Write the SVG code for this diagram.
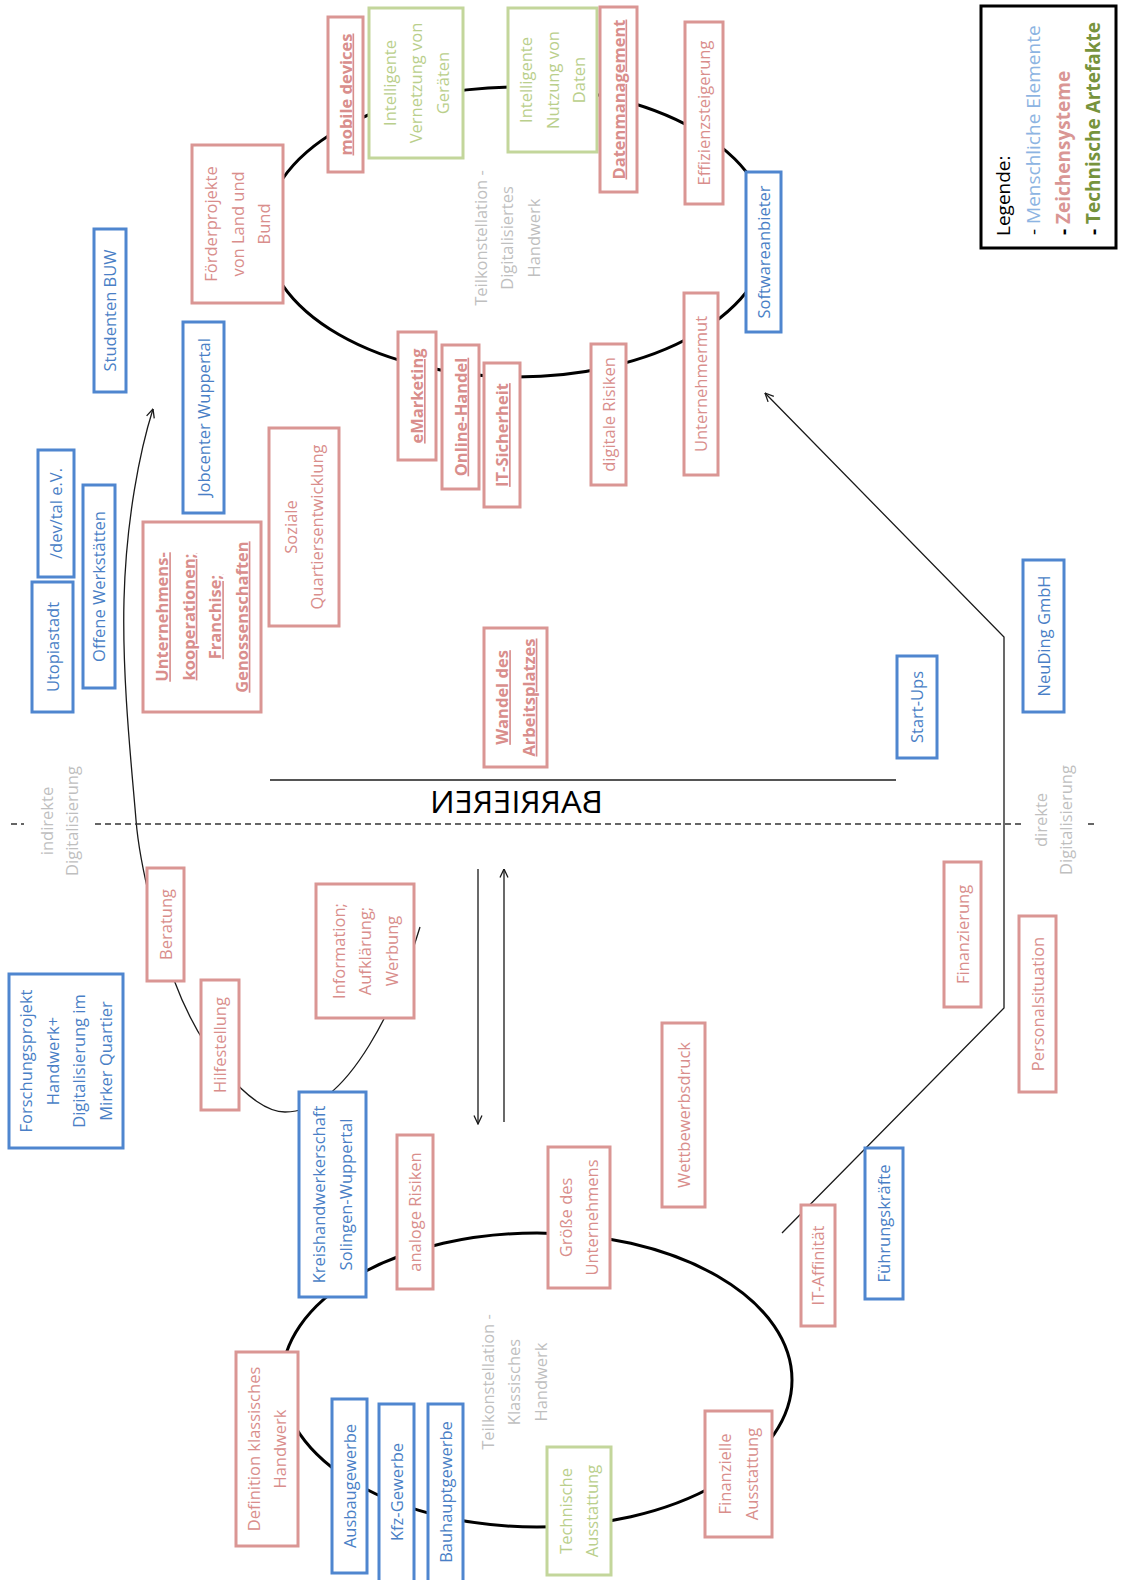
<svg xmlns="http://www.w3.org/2000/svg" width="1121" height="1580" viewBox="0 0 1121 1580">
<style>
text{font-family:"Open Sans","Noto Sans","DejaVu Sans",sans-serif;font-size:16.5px;text-anchor:middle}
.node rect{fill:#fff;stroke-width:3}
.b rect{stroke:#4F86CF}.b text{fill:#4A7FC6}
.p rect{stroke:#DA9694}.p text{fill:#D98E8C}
.g rect{stroke:#C3D69B}.g text{fill:#BACF8C}
.bu text{font-weight:bold;text-decoration:underline}
.lbl{fill:#BFBFBF}
.ell{fill:none;stroke:#000;stroke-width:3}
.con{fill:none;stroke:#1a1a1a;stroke-width:1.3}
.dash{stroke:#333;stroke-width:1.5;stroke-dasharray:6 4}
</style>
<defs>
<marker id="arr" viewBox="0 0 10 10" refX="9.5" refY="5" markerWidth="10" markerHeight="10" markerUnits="userSpaceOnUse" orient="auto">
<path d="M1 1 L9.5 5 L1 9" fill="none" stroke="#1a1a1a" stroke-width="1.3"/>
</marker>
</defs>
<rect width="1121" height="1580" fill="#fff"/>
<g id="connectors">
<ellipse class="ell" cx="517" cy="232" rx="252" ry="145"/>
<ellipse class="ell" cx="537" cy="1380" rx="255" ry="147"/>
<path class="con" d="M420 927 C400 995 350 1112 285 1112 C250 1112 200 1050 174 980 C160 942 140 870 136 820 C132 770 122 680 124 600 C126 520 140 450 153 409" marker-end="url(#arr)"/>
<polyline class="con" points="782,1233 1004,1008 1004,637 765,393" marker-end="url(#arr)"/>
<line class="con" x1="478" y1="869" x2="478" y2="1124" marker-end="url(#arr)"/>
<line class="con" x1="504" y1="1122" x2="504" y2="869" marker-end="url(#arr)"/>
<line x1="270" y1="780" x2="896" y2="780" stroke="#555" stroke-width="2"/>
<line class="dash" x1="11" y1="824" x2="24" y2="824"/>
<line class="dash" x1="95" y1="824" x2="1021" y2="824"/>
<line class="dash" x1="1088" y1="824" x2="1098" y2="824"/>
</g>
<g id="labels">
<text class="lbl" transform="translate(507,238) rotate(-90)"><tspan x="0" y="-20.5">Teilkonstellation -</tspan><tspan x="0" y="6">Digitalisiertes</tspan><tspan x="0" y="32.5">Handwerk</tspan></text>
<text class="lbl" transform="translate(514,1382) rotate(-90)"><tspan x="0" y="-20.5">Teilkonstellation -</tspan><tspan x="0" y="6">Klassisches</tspan><tspan x="0" y="32.5">Handwerk</tspan></text>
<text class="lbl" transform="translate(59,821) rotate(-90)"><tspan x="0" y="-6.5">indirekte</tspan><tspan x="0" y="18.5">Digitalisierung</tspan></text>
<text class="lbl" transform="translate(1053.5,820) rotate(-90)"><tspan x="0" y="-6.5">direkte</tspan><tspan x="0" y="18.5">Digitalisierung</tspan></text>
<text id="barrieren" transform="translate(516.5,813) scale(-1,1)" style="font-size:31px;fill:#000" textLength="173" lengthAdjust="spacingAndGlyphs">BARRIEREN</text>
</g>
<g id="legend">
<rect x="981" y="6" width="135" height="242" fill="#fff" stroke="#000" stroke-width="3"/>
<text transform="rotate(-90)" style="font-size:19px;text-anchor:start"><tspan x="-236" y="1010" fill="#000">Legende:</tspan><tspan x="-235" y="1040"><tspan fill="#000">- </tspan><tspan fill="#8DB4E2">Menschliche Elemente</tspan></tspan><tspan x="-235" y="1070" font-weight="bold"><tspan fill="#000">- </tspan><tspan fill="#D99694">Zeichensysteme</tspan></tspan><tspan x="-235" y="1100" font-weight="bold"><tspan fill="#000">- </tspan><tspan fill="#77933C">Technische Artefakte</tspan></tspan></text>
</g>
<g id="nodes">
<g id="studenten" class="node b"><rect x="94" y="229" width="32" height="163"/><text transform="translate(110,310.5) rotate(-90)"><tspan x="0" y="6">Studenten BUW</tspan></text></g>
<g id="jobcenter" class="node b"><rect x="183" y="322" width="41" height="191"/><text transform="translate(203.5,417.5) rotate(-90)"><tspan x="0" y="6">Jobcenter Wuppertal</tspan></text></g>
<g id="foerder" class="node p"><rect x="192" y="145" width="91" height="158"/><text transform="translate(237.5,224) rotate(-90)"><tspan x="0" y="-20.5">Förderprojekte</tspan><tspan x="0" y="6">von Land und</tspan><tspan x="0" y="32.5">Bund</tspan></text></g>
<g id="mobile" class="node p bu"><rect x="328" y="17" width="35" height="155"/><text transform="translate(345.5,94.5) rotate(-90)"><tspan x="0" y="6">mobile devices</tspan></text></g>
<g id="vernetzung" class="node g"><rect x="369" y="8" width="94" height="150"/><text transform="translate(416,83) rotate(-90)"><tspan x="0" y="-20.5">Intelligente</tspan><tspan x="0" y="6">Vernetzung von</tspan><tspan x="0" y="32.5">Geräten</tspan></text></g>
<g id="nutzung" class="node g"><rect x="508" y="8" width="89" height="144"/><text transform="translate(552.5,80) rotate(-90)"><tspan x="0" y="-20.5">Intelligente</tspan><tspan x="0" y="6">Nutzung von</tspan><tspan x="0" y="32.5">Daten</tspan></text></g>
<g id="datenmanagement" class="node p bu"><rect x="600" y="7" width="37" height="185"/><text transform="translate(618.5,99.5) rotate(-90)"><tspan x="0" y="6">Datenmanagement</tspan></text></g>
<g id="effizienz" class="node p"><rect x="685" y="22" width="38" height="182"/><text transform="translate(704,113) rotate(-90)"><tspan x="0" y="6">Effizienzsteigerung</tspan></text></g>
<g id="software" class="node b"><rect x="746" y="172" width="35" height="160"/><text transform="translate(763.5,252) rotate(-90)"><tspan x="0" y="6">Softwareanbieter</tspan></text></g>
<g id="utopiastadt" class="node b"><rect x="32" y="582" width="41" height="130"/><text transform="translate(52.5,647) rotate(-90)"><tspan x="0" y="6">Utopiastadt</tspan></text></g>
<g id="devtal" class="node b"><rect x="38" y="450" width="36" height="127"/><text transform="translate(56,513.5) rotate(-90)"><tspan x="0" y="6">/dev/tal e.V.</tspan></text></g>
<g id="offene" class="node b"><rect x="83" y="485" width="32" height="203"/><text transform="translate(99,586.5) rotate(-90)"><tspan x="0" y="6">Offene Werkstätten</tspan></text></g>
<g id="kooperationen" class="node p bu"><rect x="143" y="522" width="118" height="190"/><text transform="translate(202,617) rotate(-90)"><tspan x="0" y="-33.75">Unternehmens-</tspan><tspan x="0" y="-7.25">kooperationen;</tspan><tspan x="0" y="19.25">Franchise;</tspan><tspan x="0" y="45.75">Genossenschaften</tspan></text></g>
<g id="soziale" class="node p"><rect x="269" y="428" width="70" height="198"/><text transform="translate(304,527) rotate(-90)"><tspan x="0" y="-7.25">Soziale</tspan><tspan x="0" y="19.25">Quartiersentwicklung</tspan></text></g>
<g id="emarketing" class="node p bu"><rect x="398" y="332" width="38" height="128"/><text transform="translate(417,396) rotate(-90)"><tspan x="0" y="6">eMarketing</tspan></text></g>
<g id="onlinehandel" class="node p bu"><rect x="442" y="345" width="37" height="144"/><text transform="translate(460.5,417) rotate(-90)"><tspan x="0" y="6">Online-Handel</tspan></text></g>
<g id="itsicherheit" class="node p bu"><rect x="484" y="363" width="36" height="144"/><text transform="translate(502,435) rotate(-90)"><tspan x="0" y="6">IT-Sicherheit</tspan></text></g>
<g id="digrisiken" class="node p"><rect x="591" y="344" width="35" height="141"/><text transform="translate(608.5,414.5) rotate(-90)"><tspan x="0" y="6">digitale Risiken</tspan></text></g>
<g id="unternehmermut" class="node p"><rect x="684" y="293" width="34" height="182"/><text transform="translate(701,384) rotate(-90)"><tspan x="0" y="6">Unternehmermut</tspan></text></g>
<g id="wandel" class="node p bu"><rect x="484" y="628" width="63" height="139"/><text transform="translate(515.5,697.5) rotate(-90)"><tspan x="0" y="-7.25">Wandel des</tspan><tspan x="0" y="19.25">Arbeitsplatzes</tspan></text></g>
<g id="startups" class="node b"><rect x="897" y="656" width="40" height="102"/><text transform="translate(917,707) rotate(-90)"><tspan x="0" y="6">Start-Ups</tspan></text></g>
<g id="neuding" class="node b"><rect x="1023" y="560" width="41" height="152"/><text transform="translate(1043.5,636) rotate(-90)"><tspan x="0" y="6">NeuDing GmbH</tspan></text></g>
<g id="beratung" class="node p"><rect x="147" y="868" width="37" height="113"/><text transform="translate(165.5,924.5) rotate(-90)"><tspan x="0" y="6">Beratung</tspan></text></g>
<g id="hilfestellung" class="node p"><rect x="201" y="980" width="38" height="130"/><text transform="translate(220,1045) rotate(-90)"><tspan x="0" y="6">Hilfestellung</tspan></text></g>
<g id="information" class="node p"><rect x="316" y="884" width="98" height="134"/><text transform="translate(365,951) rotate(-90)"><tspan x="0" y="-20.5">Information;</tspan><tspan x="0" y="6">Aufklärung;</tspan><tspan x="0" y="32.5">Werbung</tspan></text></g>
<g id="forschung" class="node b"><rect x="9" y="974" width="114" height="174"/><text transform="translate(66,1061) rotate(-90)"><tspan x="0" y="-33.75">Forschungsprojekt</tspan><tspan x="0" y="-7.25">Handwerk+</tspan><tspan x="0" y="19.25">Digitalisierung im</tspan><tspan x="0" y="45.75">Mirker Quartier</tspan></text></g>
<g id="kreishandwerkerschaft" class="node b"><rect x="299" y="1092" width="67" height="205"/><text transform="translate(332.5,1194.5) rotate(-90)"><tspan x="0" y="-7.25">Kreishandwerkerschaft</tspan><tspan x="0" y="19.25">Solingen-Wuppertal</tspan></text></g>
<g id="analog" class="node p"><rect x="397" y="1135" width="36" height="154"/><text transform="translate(415,1212) rotate(-90)"><tspan x="0" y="6">analoge Risiken</tspan></text></g>
<g id="groesse" class="node p"><rect x="548" y="1147" width="62" height="141"/><text transform="translate(579,1217.5) rotate(-90)"><tspan x="0" y="-7.25">Größe des</tspan><tspan x="0" y="19.25">Unternehmens</tspan></text></g>
<g id="wettbewerb" class="node p"><rect x="662" y="1023" width="43" height="184"/><text transform="translate(683.5,1115) rotate(-90)"><tspan x="0" y="6">Wettbewerbsdruck</tspan></text></g>
<g id="finanzierung" class="node p"><rect x="944" y="862" width="37" height="145"/><text transform="translate(962.5,934.5) rotate(-90)"><tspan x="0" y="6">Finanzierung</tspan></text></g>
<g id="personal" class="node p"><rect x="1019" y="916" width="37" height="176"/><text transform="translate(1037.5,1004) rotate(-90)"><tspan x="0" y="6">Personalsituation</tspan></text></g>
<g id="fuehrung" class="node b"><rect x="865" y="1148" width="38" height="151"/><text transform="translate(884,1223.5) rotate(-90)"><tspan x="0" y="6">Führungskräfte</tspan></text></g>
<g id="itaffin" class="node p"><rect x="801" y="1205" width="34" height="121"/><text transform="translate(818,1265.5) rotate(-90)"><tspan x="0" y="6">IT-Affinität</tspan></text></g>
<g id="finanzielle" class="node p"><rect x="705" y="1411" width="67" height="126"/><text transform="translate(738.5,1474) rotate(-90)"><tspan x="0" y="-7.25">Finanzielle</tspan><tspan x="0" y="19.25">Ausstattung</tspan></text></g>
<g id="technische" class="node g"><rect x="547" y="1447" width="64" height="128"/><text transform="translate(579,1511) rotate(-90)"><tspan x="0" y="-7.25">Technische</tspan><tspan x="0" y="19.25">Ausstattung</tspan></text></g>
<g id="definition" class="node p"><rect x="236" y="1352" width="62" height="194"/><text transform="translate(267,1449) rotate(-90)"><tspan x="0" y="-7.25">Definition klassisches</tspan><tspan x="0" y="19.25">Handwerk</tspan></text></g>
<g id="ausbau" class="node b"><rect x="332" y="1399" width="35" height="174"/><text transform="translate(349.5,1486) rotate(-90)"><tspan x="0" y="6">Ausbaugewerbe</tspan></text></g>
<g id="kfz" class="node b"><rect x="379" y="1404" width="35" height="180"/><text transform="translate(396.5,1492) rotate(-90)"><tspan x="0" y="6">Kfz-Gewerbe</tspan></text></g>
<g id="bauhaupt" class="node b"><rect x="428" y="1404" width="35" height="180"/><text transform="translate(445.5,1492) rotate(-90)"><tspan x="0" y="6">Bauhauptgewerbe</tspan></text></g>
</g>
</svg>
